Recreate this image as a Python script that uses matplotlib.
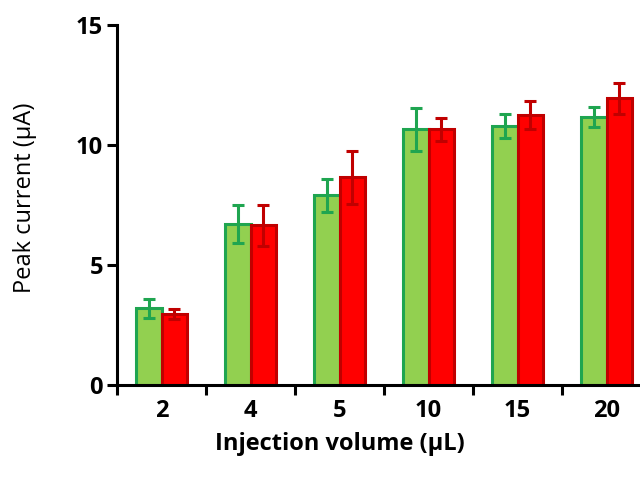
import numpy as np
import matplotlib.pyplot as plt

# Data
volumes = ['2', '4', '5', '10', '15', '20']
green_vals = [3.2, 6.7, 7.9, 10.65, 10.8, 11.15]
green_err = [0.4, 0.8, 0.7, 0.9, 0.5, 0.42]
red_vals = [2.95, 6.65, 8.65, 10.65, 11.25, 11.95]
red_err = [0.22, 0.85, 1.1, 0.48, 0.6, 0.65]

plt.rcParams['font.family'] = ['Open Sans', 'DejaVu Sans']

fig = plt.figure(figsize=(6.4, 4.84), dpi=100)
ax = fig.add_axes([117 / 640, 99 / 484, 534 / 640, 360 / 484])

x = np.arange(len(volumes))
w = 0.29

ax.bar(x - w / 2, green_vals, w, color='#92D050', edgecolor='#1FA550', linewidth=2.2,
       yerr=green_err, error_kw=dict(ecolor='#1FA550', elinewidth=2.2, capsize=4, capthick=2.2))
ax.bar(x + w / 2, red_vals, w, color='#FF0000', edgecolor='#C00000', linewidth=2.2,
       yerr=red_err, error_kw=dict(ecolor='#C00000', elinewidth=2.2, capsize=4, capthick=2.2))

ax.set_xlim(-0.5, len(volumes) - 0.5)
ax.set_ylim(0, 15)
ax.set_yticks([0, 5, 10, 15])
ax.set_xticks(x)
ax.set_xticklabels(volumes)
ax.set_xticks(np.arange(-0.5, len(volumes), 1), minor=True)
ax.tick_params(axis='x', which='major', length=0, pad=10, labelsize=17)
ax.tick_params(axis='x', which='minor', length=7, width=2.2, direction='out')
ax.tick_params(axis='y', length=7, width=2.2, direction='out', labelsize=17, pad=3)
for lab in ax.get_xticklabels() + ax.get_yticklabels():
    lab.set_fontweight('bold')

for s in ['top', 'right']:
    ax.spines[s].set_visible(False)
for s in ['left', 'bottom']:
    ax.spines[s].set_linewidth(2.2)

ax.set_xlabel('Injection volume (μL)', fontsize=17, fontweight='bold')
ax.xaxis.set_label_coords(0.418, -0.13)
ax.set_ylabel('Peak current (μA)', fontsize=17, fontweight='medium')
ax.yaxis.set_label_coords(-0.15, 0.52)

fig.savefig('out.png', dpi=100)
